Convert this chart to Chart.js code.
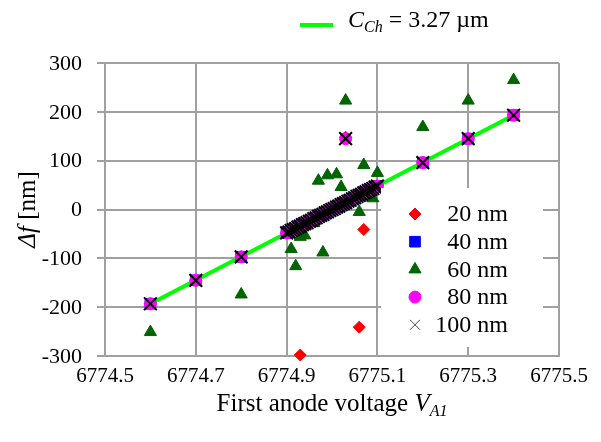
<!DOCTYPE html>
<html>
<head>
<meta charset="utf-8">
<script src="https://cdn.jsdelivr.net/npm/chart.js@4.4.1/dist/chart.umd.min.js"></script>
<style>
  html, body { margin: 0; padding: 0; background: #fff; }
</style>
</head>
<body>
<canvas id="chart" width="601" height="442"></canvas>
<script>
// Tick labels
const xTicks = [6774.5, 6774.7, 6774.9, 6775.1, 6775.3, 6775.5];
const yTicks = [-300, -200, -100, 0, 100, 200, 300];

// Points that sit on the fitted line (shared by the 20/40/80/100 nm series)
const lineVolts = [6774.6, 6774.7, 6774.8,
    6774.9, 6774.905, 6774.91, 6774.915, 6774.92, 6774.925, 6774.93, 6774.935, 6774.94, 6774.945,
    6774.95, 6774.955, 6774.96, 6774.965, 6774.97, 6774.975, 6774.98, 6774.985, 6774.99, 6774.995,
    6775.0, 6775.005, 6775.01, 6775.015, 6775.02, 6775.025, 6775.03, 6775.035, 6775.04, 6775.045,
    6775.05, 6775.055, 6775.06, 6775.065, 6775.07, 6775.075, 6775.08, 6775.085, 6775.09, 6775.095,
    6775.1, 6775.2, 6775.3, 6775.4];
const lineShift = [-193, -145, -97,
    -48, -46, -43, -41, -39, -36, -34, -31, -29, -27,
    -24, -22, -19, -17, -14, -12, -10, -7, -5, -2,
    0, 2, 5, 7, 10, 12, 14, 17, 19, 22,
    24, 27, 29, 31, 34, 36, 39, 41, 43, 46,
    48, 96, 145, 193];

// Off-line points per series
const volts20 = [6775.03, 6775.07, 6775.06, 6774.93];
const shift20 = [148, -41, -241, -298];
const volts60 = [6774.6, 6774.8, 6774.92, 6774.91, 6774.98, 6774.93, 6774.94, 6774.96, 6774.97, 6774.99,
    6775.01, 6775.02, 6775.03, 6775.06, 6775.07, 6775.09, 6775.1, 6775.2, 6775.3, 6775.4];
const shift60 = [-251, -174, -116, -81, -88, -56, -53, -28, 59, 70,
    72, 46, 223, -5, 91, 23, 75, 169, 223, 265];
const voltsOut = [6775.03];
const shiftOut = [145];

// Fitted line, C_Ch = 3.27 um
const fitVolts = [6774.6, 6775.4];
const fitShift = [-193, 193];

const serif = '"Liberation Serif", "Times New Roman", serif';
const gridGray = '#a0a0a0';

const pts = (xs, ys) => xs.map((x, i) => ({ x: x, y: ys[i] }));

const datasets = [
    { label: '100 nm', data: pts(lineVolts.concat(voltsOut), lineShift.concat(shiftOut)), order: 1,
      pointStyle: 'crossRot', pointRadius: 9, pointBorderWidth: 2, borderColor: '#000', backgroundColor: '#000' },
    { label: '80 nm', data: pts(lineVolts.concat(voltsOut), lineShift.concat(shiftOut)), order: 2,
      pointStyle: 'circle', pointRadius: 6, pointBorderWidth: 1, borderColor: '#ff00ff', backgroundColor: '#ff00ff' },
    { label: '60 nm', data: pts(volts60, shift60), order: 3,
      pointStyle: 'triangle', pointRadius: 7, pointBorderWidth: 1, borderColor: '#006400', backgroundColor: '#006400' },
    { label: '40 nm', data: pts(lineVolts, lineShift), order: 4,
      pointStyle: 'rect', pointRadius: 7.5, pointBorderWidth: 1, borderColor: '#0000ff', backgroundColor: '#0000ff' },
    { label: '20 nm', data: pts(lineVolts.concat(volts20), lineShift.concat(shift20)), order: 5,
      pointStyle: 'rectRot', pointRadius: 6, pointBorderWidth: 1, borderColor: '#ff0000', backgroundColor: '#ff0000' },
    { label: 'fit', data: pts(fitVolts, fitShift), order: 6, showLine: true,
      borderColor: '#00ff00', borderWidth: 4, pointRadius: 0 }
];
datasets.forEach(d => { d.clip = false; });

// draws text runs with italic parts and subscripts
function drawRuns(ctx, runs, x, y, align) {
    let w = 0;
    runs.forEach(r => { ctx.font = r[1]; w += ctx.measureText(r[0]).width; });
    let cx = align === 'center' ? x - w / 2 : x;
    runs.forEach(r => {
        ctx.font = r[1];
        ctx.fillText(r[0], cx, y + (r[2] || 0));
        cx += ctx.measureText(r[0]).width;
    });
}

const extras = {
    id: 'extras',
    afterDraw(chart) {
        const ctx = chart.ctx;
        const area = chart.chartArea;
        const xs = chart.scales.x, ys = chart.scales.y;
        ctx.save();
        ctx.fillStyle = '#000';

        // tick labels, placed through the scales
        ctx.textBaseline = 'middle';
        ctx.font = '21px ' + serif;
        ctx.textAlign = 'center';
        xTicks.forEach(v => ctx.fillText(v.toFixed(1), xs.getPixelForValue(v), area.bottom + 20));
        ctx.font = '22px ' + serif;
        ctx.textAlign = 'right';
        yTicks.forEach(v => ctx.fillText(String(v), area.left - 23, ys.getPixelForValue(v) + 1));

        ctx.textAlign = 'left';
        ctx.textBaseline = 'alphabetic';

        // axis titles
        drawRuns(ctx, [
            ['First anode voltage ', '25px ' + serif],
            ['V', 'italic 25px ' + serif],
            ['A1', 'italic 16px ' + serif, 5]
        ], (area.left + area.right) / 2, 411, 'center');

        ctx.save();
        ctx.translate(35, (area.top + area.bottom) / 2);
        ctx.rotate(-Math.PI / 2);
        drawRuns(ctx, [
            ['\u0394f', 'italic 25px ' + serif],
            [' [nm]', '25px ' + serif]
        ], 0, 0, 'center');
        ctx.restore();

        // fit legend at top
        ctx.strokeStyle = '#00ff00';
        ctx.lineWidth = 4;
        ctx.beginPath();
        ctx.moveTo(300, 25);
        ctx.lineTo(333, 25);
        ctx.stroke();
        drawRuns(ctx, [
            ['C', 'italic 24px ' + serif],
            ['Ch', 'italic 16px ' + serif, 5],
            [' = 3.27 \u00b5m', '24px ' + serif]
        ], 348, 27, 'left');

        // marker legend inside the plot
        ctx.fillStyle = '#fff';
        ctx.fillRect(381, 188, 162, 159);
        const order = ['20 nm', '40 nm', '60 nm', '80 nm', '100 nm'];
        order.forEach((lab, i) => {
            const ds = chart.data.datasets.find(d => d.label === lab);
            const y = 214 + i * 27.7;
            const cross = ds.pointStyle === 'crossRot';
            ctx.fillStyle = ds.backgroundColor;
            ctx.strokeStyle = cross ? '#444' : ds.borderColor;
            ctx.lineWidth = 1;
            Chart.helpers.drawPoint(ctx, {
                pointStyle: ds.pointStyle,
                radius: cross ? 7 : ds.pointRadius,
                borderWidth: 1,
                rotation: 0
            }, 415, y);
            ctx.fillStyle = '#000';
            ctx.textAlign = 'right';
            ctx.textBaseline = 'middle';
            ctx.font = '24px ' + serif;
            ctx.fillText(lab, 508, y + 1);
        });
        ctx.restore();
    }
};

new Chart(document.getElementById('chart'), {
    type: 'scatter',
    data: { datasets: datasets },
    options: {
        responsive: false,
        animation: false,
        events: [],
        layout: { padding: { top: 63, right: 42, left: 0, bottom: 0 }, autoPadding: false },
        plugins: { legend: { display: false }, tooltip: { enabled: false } },
        scales: {
            x: {
                type: 'linear', min: 6774.5, max: 6775.5,
                afterBuildTicks: s => { s.ticks = xTicks.map(v => ({ value: v })); },
                ticks: { display: false },
                grid: { color: gridGray, lineWidth: 2, drawTicks: false },
                border: { color: gridGray, width: 2 },
                afterFit: s => { s.height = 86; }
            },
            y: {
                type: 'linear', min: -300, max: 300,
                afterBuildTicks: s => { s.ticks = yTicks.map(v => ({ value: v })); },
                ticks: { display: false },
                grid: { color: gridGray, lineWidth: 2, tickLength: 8 },
                border: { color: gridGray, width: 2 },
                afterFit: s => { s.width = 105; }
            }
        }
    },
    plugins: [extras]
});
</script>
</body>
</html>
